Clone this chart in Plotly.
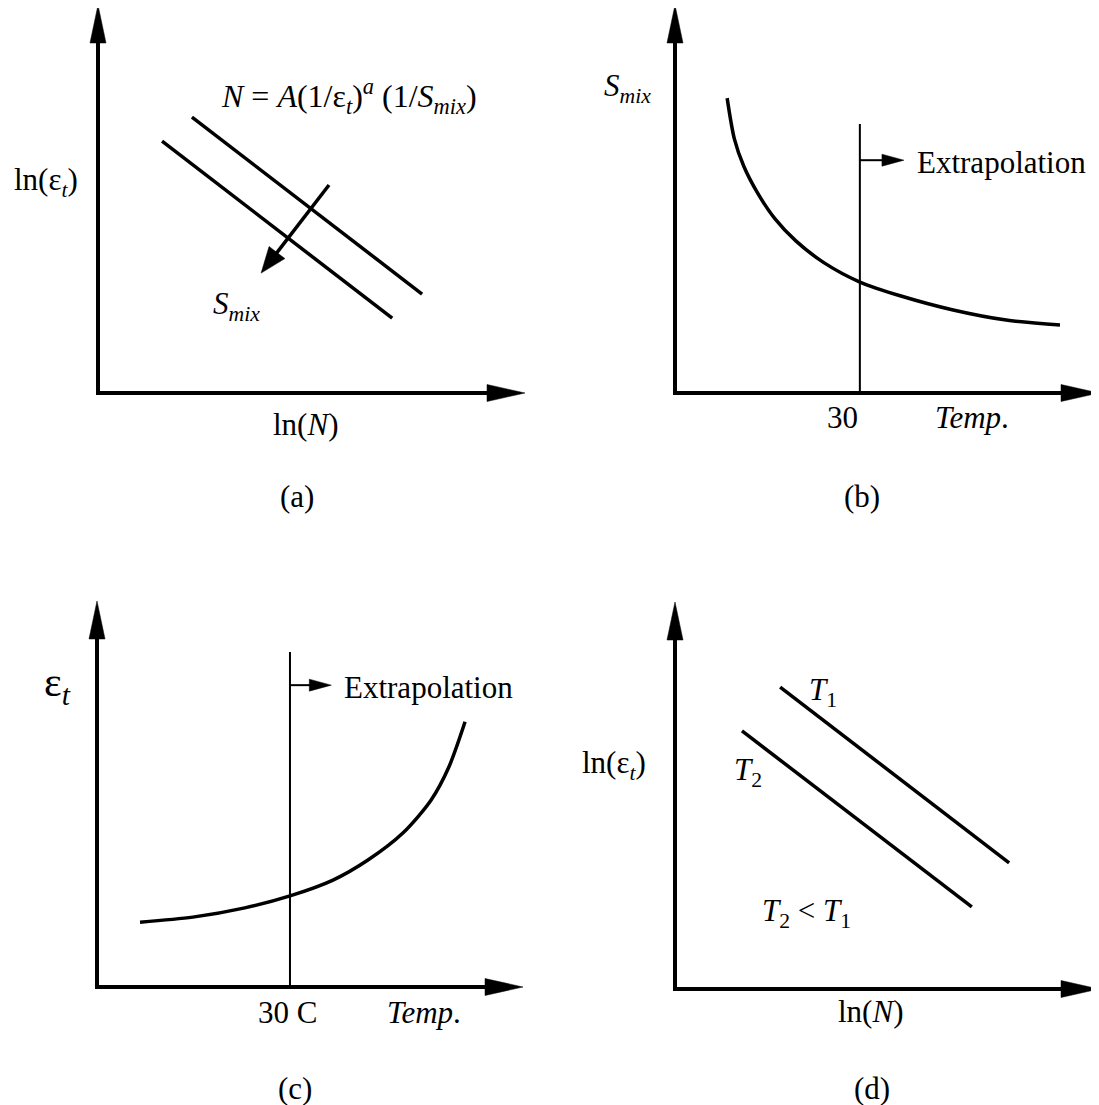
import plotly.graph_objects as go

PAGE_W, PAGE_H = 1099, 1105
BODY_MARGIN = 8          # browser default body margin
W, H = PAGE_W - BODY_MARGIN, PAGE_H - BODY_MARGIN
FONT = "Liberation Serif"
FS = 31

# ---------------- data (schematic units: axis origin = 0, arrow tip = 10) ----------------
# panel (a)
a_upper_x = [2.20, 7.59]
a_upper_y = [7.11, 2.55]
a_lower_x = [1.50, 6.89]
a_lower_y = [6.49, 1.93]
a_arrow_x = [5.41, 3.82]
a_arrow_y = [5.36, 3.09]

# panel (b)
b_curve_x = [1.23, 1.40, 1.62, 1.95, 2.35, 2.85, 3.51, 4.36, 5.33, 6.56, 7.81, 9.08]
b_curve_y = [7.60, 6.55, 5.85, 5.15, 4.50, 3.92, 3.36, 2.86, 2.50, 2.14, 1.88, 1.75]
b_cut_x = 4.36
b_cut_top = 6.93
b_extra_y = 6.00
b_extra_tip = 5.40

# panel (c)
c_curve_x = [1.01, 2.25, 3.47, 4.53, 5.54, 6.36, 7.18, 7.84, 8.26, 8.64]
c_curve_y = [1.68, 1.81, 2.05, 2.36, 2.77, 3.29, 3.99, 4.84, 5.70, 6.87]
c_cut_x = 4.53
c_cut_top = 8.68
c_extra_y = 7.82
c_extra_tip = 5.50

# panel (d)
d_t1_x = [2.48, 7.88]
d_t1_y = [7.80, 3.26]
d_t2_x = [1.58, 7.00]
d_t2_y = [6.67, 2.12]

# text labels: (panel, x, y, text, size, anchor)
labels = [
    ("a", 5.88, 7.65, "<i>N</i> = <i>A</i>(1/ε<sub><i>t</i></sub>)<sup><i>a</i></sup> (1/<i>S</i><sub><i>mix</i></sub>)", 32, "center"),
    ("a", 3.25, 2.25, "<i>S</i><sub><i>mix</i></sub>", FS, "center"),
    ("a", -1.22, 5.44, "ln(ε<sub><i>t</i></sub>)", FS, "center"),
    ("a", 4.85, -0.82, "ln(<i>N</i>)", FS, "center"),
    ("a", 4.66, -2.68, "(a)", FS, "center"),
    ("b", -1.13, 7.86, "<i>S</i><sub><i>mix</i></sub>", FS, "center"),
    ("b", 5.66, 5.93, "Extrapolation", FS, "left"),
    ("b", 3.96, -0.62, "30", FS, "center"),
    ("b", 7.00, -0.64, "<i>Temp</i>.", FS, "center"),
    ("b", 4.41, -2.68, "(b)", FS, "center"),
    ("c", -0.92, 7.82, "ε<sub><i>t</i></sub>", 42, "center"),
    ("c", 5.75, 7.75, "Extrapolation", FS, "left"),
    ("c", 4.48, -0.65, "30 C", FS, "center"),
    ("c", 7.68, -0.65, "<i>Temp</i>.", FS, "center"),
    ("c", 4.65, -2.62, "(c)", FS, "center"),
    ("d", -1.44, 5.79, "ln(ε<sub><i>t</i></sub>)", FS, "center"),
    ("d", 3.49, 7.67, "<i>T</i><sub>1</sub>", FS, "center"),
    ("d", 1.72, 5.61, "<i>T</i><sub>2</sub>", FS, "center"),
    ("d", 3.09, 1.96, "<i>T</i><sub>2</sub> &lt; <i>T</i><sub>1</sub>", FS, "center"),
    ("d", 4.60, -0.59, "ln(<i>N</i>)", FS, "center"),
    ("d", 4.65, -2.56, "(d)", FS, "center"),
]

# ---------------- layout frames (page-pixel origin and pixels per unit) ----------------
FRAMES = {
    "a": dict(ox=98, oy=393, ux=42.7, uy=38.8, n=1),
    "b": dict(ox=675, oy=393, ux=42.4, uy=38.8, n=2),
    "c": dict(ox=97, oy=987, ux=42.6, uy=38.6, n=3),
    "d": dict(ox=675, oy=989, ux=42.4, uy=38.7, n=4),
}

fig = go.Figure()


def refs(p):
    n = FRAMES[p]["n"]
    return ("x" if n == 1 else f"x{n}"), ("y" if n == 1 else f"y{n}")


def line(p, xs, ys, width=3.5, shape="linear"):
    xr, yr = refs(p)
    ln = dict(color="black", width=width, shape=shape)
    if shape == "spline":
        ln["smoothing"] = 0.8
    fig.add_trace(go.Scatter(x=xs, y=ys, mode="lines", xaxis=xr, yaxis=yr, line=ln,
                             hoverinfo="skip", showlegend=False))


def head(p, x0, y0, x1, y1, length, half):
    """filled arrowhead pointing from (x0,y0) to tip (x1,y1); size in pixels"""
    f = FRAMES[p]
    sx0, sy0, sx1, sy1 = x0 * f["ux"], y0 * f["uy"], x1 * f["ux"], y1 * f["uy"]
    dx, dy = sx1 - sx0, sy1 - sy0
    d = (dx * dx + dy * dy) ** 0.5
    ex, ey = dx / d, dy / d
    bx, by = sx1 - ex * length, sy1 - ey * length
    px, py = -ey, ex
    pts = [(sx1, sy1), (bx + px * half, by + py * half), (bx - px * half, by - py * half), (sx1, sy1)]
    xr, yr = refs(p)
    fig.add_trace(go.Scatter(x=[q[0] / f["ux"] for q in pts], y=[q[1] / f["uy"] for q in pts],
                             mode="lines", fill="toself", fillcolor="black", xaxis=xr, yaxis=yr,
                             line=dict(color="black", width=0.5), hoverinfo="skip", showlegend=False))
    return (bx + ex * 2) / f["ux"], (by + ey * 2) / f["uy"]


def arrow(p, x0, y0, x1, y1, width, length, half):
    bx, by = head(p, x0, y0, x1, y1, length, half)
    line(p, [x0, bx], [y0, by], width=width)


# axes with arrowheads
for p in FRAMES:
    xb, _ = head(p, 0, 0, 10, 0, 38, 8.5)
    _, yb = head(p, 0, 0, 0, 10, 38, 8)
    line(p, [0, 0, xb], [yb, 0, 0], width=4)

# panel (a)
line("a", a_upper_x, a_upper_y)
line("a", a_lower_x, a_lower_y)
arrow("a", a_arrow_x[0], a_arrow_y[0], a_arrow_x[1], a_arrow_y[1], 3.5, 26, 10)

# panel (b)
line("b", b_curve_x, b_curve_y, shape="spline")
line("b", [b_cut_x, b_cut_x], [0, b_cut_top], width=2)
arrow("b", b_cut_x, b_extra_y, b_extra_tip, b_extra_y, 2, 22, 6)

# panel (c)
line("c", c_curve_x, c_curve_y, shape="spline")
line("c", [c_cut_x, c_cut_x], [0, c_cut_top], width=2)
arrow("c", c_cut_x, c_extra_y, c_extra_tip, c_extra_y, 2, 22, 6)

# panel (d)
line("d", d_t1_x, d_t1_y)
line("d", d_t2_x, d_t2_y)

annotations = []
for p, x, y, t, s, anc in labels:
    xr, yr = refs(p)
    annotations.append(dict(x=x, y=y, xref=xr, yref=yr, text=t, showarrow=False,
                            xanchor=anc, yanchor="middle",
                            font=dict(family=FONT, size=s, color="black")))

layout = dict(width=W, height=H, margin=dict(l=0, r=0, t=0, b=0),
              plot_bgcolor="white", paper_bgcolor="white",
              annotations=annotations, showlegend=False)
for p, f in FRAMES.items():
    n = f["n"]
    ox, oy = f["ox"] - BODY_MARGIN, f["oy"] - BODY_MARGIN
    xk = "xaxis" if n == 1 else f"xaxis{n}"
    yk = "yaxis" if n == 1 else f"yaxis{n}"
    layout[xk] = dict(domain=[0, 1], range=[-ox / f["ux"], (W - ox) / f["ux"]],
                      visible=False, fixedrange=True,
                      anchor=("y" if n == 1 else f"y{n}"))
    layout[yk] = dict(domain=[0, 1], range=[-(H - oy) / f["uy"], oy / f["uy"]],
                      visible=False, fixedrange=True,
                      anchor=("x" if n == 1 else f"x{n}"))
    if n > 1:
        layout[xk]["overlaying"] = "x"
        layout[yk]["overlaying"] = "y"

fig.update_layout(**layout)
fig.write_html("out.html")
